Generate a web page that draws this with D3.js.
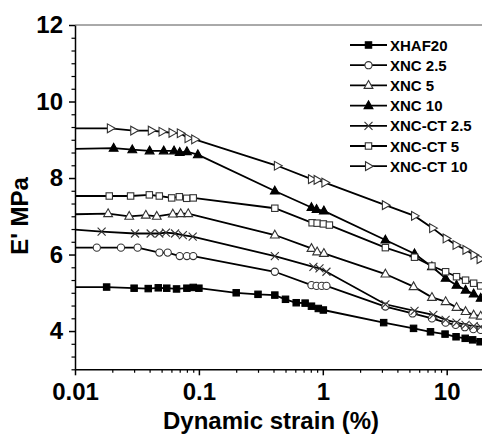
<!DOCTYPE html>
<html>
<head>
  <meta charset="utf-8">
  <script src="https://d3js.org/d3.v7.min.js"></script>
  <style>
    body { margin: 0; background: #fff; }
    svg { display: block; font-family: "Liberation Sans", Arial, sans-serif; font-weight: bold; }
    .axis path, .axis line { stroke: #000; stroke-width: 1.5; }
    .axis text { font-size: 24px; font-weight: bold; fill: #000; font-family: "Liberation Sans", Arial, sans-serif; }
    .minor path { display: none; }
    .minor line { stroke: #000; stroke-width: 1.2; }
    .series { fill: none; stroke: #000; stroke-width: 1.8; }
  </style>
</head>
<body>
  <svg width="482" height="435"></svg>
  <script>
    // series names (legend order)
    var names = ["XHAF20", "XNC 2.5", "XNC 5", "XNC 10", "XNC-CT 2.5", "XNC-CT 5", "XNC-CT 10"];

    // strain (%) and E' (MPa) per series
    var xhaf20Strain = [0.009, 0.018, 0.03, 0.039, 0.047, 0.055, 0.066, 0.08, 0.09, 0.1, 0.2, 0.3, 0.41, 0.5, 0.61, 0.72, 0.81, 0.92, 1.01, 3.1, 5.4, 7.4, 9.7, 11.9, 14.1, 16.2, 18.6];
    var xhaf20Mod    = [5.15, 5.15, 5.12, 5.11, 5.13, 5.12, 5.10, 5.12, 5.14, 5.12, 5.00, 4.96, 4.94, 4.83, 4.74, 4.73, 4.65, 4.59, 4.55, 4.22, 4.07, 3.98, 3.92, 3.85, 3.81, 3.77, 3.72];

    var xnc25Strain = [0.009, 0.015, 0.0235, 0.032, 0.048, 0.056, 0.07, 0.08, 0.09, 0.41, 0.81, 0.89, 0.98, 1.07, 3.2, 5.3, 7.6, 9.8, 11.8, 14.0, 16.4, 18.8];
    var xnc25Mod    = [6.18, 6.18, 6.18, 6.18, 6.05, 6.05, 5.96, 5.96, 5.96, 5.55, 5.20, 5.18, 5.18, 5.18, 4.64, 4.46, 4.33, 4.22, 4.16, 4.10, 4.05, 4.03];

    var xnc5Strain = [0.009, 0.0185, 0.0274, 0.0373, 0.0457, 0.0616, 0.0713, 0.082, 0.41, 0.81, 0.90, 1.02, 3.2, 5.4, 7.6, 9.8, 12.0, 14.2, 16.5, 18.8];
    var xnc5Mod    = [7.05, 7.07, 7.00, 7.03, 7.00, 7.06, 7.07, 7.07, 6.51, 6.16, 6.07, 6.03, 5.49, 5.16, 4.88, 4.77, 4.62, 4.51, 4.42, 4.39];

    var xnc10Strain = [0.009, 0.0205, 0.029, 0.040, 0.052, 0.063, 0.07, 0.08, 0.098, 0.41, 0.81, 0.89, 1.02, 3.2, 5.5, 7.6, 9.8, 12.0, 14.2, 16.5, 18.8];
    var xnc10Mod    = [8.76, 8.78, 8.74, 8.71, 8.71, 8.71, 8.67, 8.69, 8.61, 7.66, 7.23, 7.18, 7.14, 6.38, 6.02, 5.68, 5.38, 5.20, 5.07, 4.97, 4.86];

    var xncct25Strain = [0.009, 0.0164, 0.0305, 0.0408, 0.0479, 0.0542, 0.0642, 0.0742, 0.0891, 0.41, 0.84, 0.94, 1.07, 3.2, 5.5, 7.8, 9.8, 12.0, 14.2, 16.5, 18.8];
    var xncct25Mod    = [6.66, 6.60, 6.55, 6.55, 6.55, 6.57, 6.55, 6.51, 6.47, 5.96, 5.68, 5.64, 5.55, 4.70, 4.53, 4.42, 4.29, 4.22, 4.16, 4.13, 4.11];

    var xncct5Strain = [0.009, 0.0189, 0.0281, 0.0398, 0.0479, 0.0603, 0.0695, 0.0797, 0.090, 0.41, 0.82, 0.90, 1.01, 1.13, 3.2, 5.5, 7.6, 9.8, 12.0, 14.2, 16.5, 18.8];
    var xncct5Mod    = [7.53, 7.53, 7.53, 7.56, 7.53, 7.48, 7.51, 7.47, 7.48, 7.21, 6.83, 6.82, 6.80, 6.77, 6.18, 5.93, 5.70, 5.55, 5.42, 5.33, 5.25, 5.18];

    var xncct10Strain = [0.009, 0.0193, 0.0298, 0.0413, 0.0504, 0.0607, 0.0708, 0.0817, 0.0925, 0.43, 0.81, 0.90, 1.04, 3.2, 5.5, 7.7, 9.9, 11.9, 14.3, 16.6, 18.6];
    var xncct10Mod    = [9.30, 9.30, 9.24, 9.24, 9.21, 9.18, 9.17, 9.04, 9.01, 8.32, 7.97, 7.95, 7.88, 7.29, 7.01, 6.69, 6.42, 6.25, 6.12, 5.99, 5.88];

    var strains = [xhaf20Strain, xnc25Strain, xnc5Strain, xnc10Strain, xncct25Strain, xncct5Strain, xncct10Strain];
    var moduli  = [xhaf20Mod, xnc25Mod, xnc5Mod, xnc10Mod, xncct25Mod, xncct5Mod, xncct10Mod];

    var xTicks = [0.01, 0.1, 1, 10];
    var yTicks = [4, 6, 8, 10, 12];

    var svg = d3.select("svg");
    var plotLeft = 75, plotBottom = 369.3, plotTop = 25, decade = 123.9;

    var x = d3.scaleLog().domain([0.01, 20]).range([plotLeft, plotLeft + Math.log10(2000) * decade]);
    var y = d3.scaleLinear().domain([3, 12]).range([plotBottom, plotTop]);

    // marker shapes
    var symbols = ["square", "circle", "triUp", "triUp", "cross", "square", "triRight"];
    var filled  = [true, false, false, true, false, false, false];

    function drawMarker(g, kind, isFilled) {
      var fill = isFilled ? "#000" : "#fff";
      var stroke = isFilled ? "#000" : "#333";
      if (kind === "square") {
        g.append("rect").attr("x", -3.2).attr("y", -3.2).attr("width", 6.4).attr("height", 6.4)
          .attr("fill", fill).attr("stroke", stroke).attr("stroke-width", 1.1);
      } else if (kind === "circle") {
        g.append("circle").attr("r", 3.6).attr("fill", fill).attr("stroke", stroke).attr("stroke-width", 1.1);
      } else if (kind === "triUp") {
        g.append("path").attr("d", "M0,-4.8L4.4,3L-4.4,3Z").attr("fill", fill).attr("stroke", stroke).attr("stroke-width", 1.1);
      } else if (kind === "triRight") {
        g.append("path").attr("d", "M4.8,0L-3,4.4L-3,-4.4Z").attr("fill", fill).attr("stroke", stroke).attr("stroke-width", 1.1);
      } else if (kind === "cross") {
        g.append("path").attr("d", "M-4,-4L4,4M-4,4L4,-4").attr("stroke", "#333").attr("stroke-width", 1.1);
      }
    }

    svg.append("clipPath").attr("id", "plot")
      .append("rect").attr("x", plotLeft).attr("y", 0).attr("width", 500).attr("height", plotBottom);

    // top frame
    svg.append("line").attr("x1", plotLeft).attr("x2", x(20)).attr("y1", plotTop).attr("y2", plotTop)
      .attr("stroke", "#555").attr("stroke-width", 1);

    var line = d3.line().x(function(d) { return x(d[0]); }).y(function(d) { return y(d[1]); });

    var plot = svg.append("g").attr("clip-path", "url(#plot)");

    strains.forEach(function(sx, i) {
      var pts = sx.map(function(v, j) { return [v, moduli[i][j]]; });
      plot.append("path").attr("class", "series").attr("d", line(pts));
    });
    strains.forEach(function(sx, i) {
      sx.forEach(function(v, j) {
        var g = plot.append("g").attr("transform", "translate(" + x(v) + "," + y(moduli[i][j]) + ")");
        drawMarker(g, symbols[i], filled[i]);
      });
    });

    // minor ticks
    var xMinor = [];
    [0.01, 0.1, 1, 10].forEach(function(d) {
      for (var k = 2; k <= 9; k++) if (d * k <= 20) xMinor.push(d * k);
    });
    svg.append("g").attr("class", "minor").attr("transform", "translate(0," + plotBottom + ")")
      .call(d3.axisBottom(x).tickValues(xMinor).tickSize(3.5).tickFormat(""));
    var yMinor = d3.range(3, 12.01, 1 / 3).filter(function(v) { return Math.abs(v - Math.round(v / 2) * 2) > 0.01; });
    svg.append("g").attr("class", "minor").attr("transform", "translate(" + plotLeft + ",0)")
      .call(d3.axisLeft(y).tickValues(yMinor).tickSize(3.5).tickFormat(""));

    svg.append("g").attr("class", "axis").attr("transform", "translate(0," + plotBottom + ")")
      .call(d3.axisBottom(x).tickValues(xTicks).tickSize(6).tickSizeOuter(0).tickPadding(8)
        .tickFormat(function(d) { return String(d); }));
    svg.append("g").attr("class", "axis").attr("transform", "translate(" + plotLeft + ",0)")
      .call(d3.axisLeft(y).tickValues(yTicks).tickSize(6).tickSizeOuter(0).tickPadding(6));

    svg.append("text").attr("x", 271).attr("y", 429).attr("text-anchor", "middle")
      .attr("font-size", 24).text("Dynamic strain (%)");
    svg.append("text").attr("transform", "translate(28,216) rotate(-90)").attr("text-anchor", "middle")
      .attr("font-size", 24).text("E' MPa");

    // legend
    var legend = svg.append("g");
    names.forEach(function(n, i) {
      var ly = 45 + i * 20.2;
      legend.append("line").attr("x1", 350).attr("x2", 387).attr("y1", ly).attr("y2", ly)
        .attr("stroke", "#000").attr("stroke-width", 1.8);
      drawMarker(legend.append("g").attr("transform", "translate(368.5," + ly + ")"), symbols[i], filled[i]);
      legend.append("text").attr("x", 390).attr("y", ly + 5.5).attr("font-size", 15).text(n);
    });
  </script>
</body>
</html>
